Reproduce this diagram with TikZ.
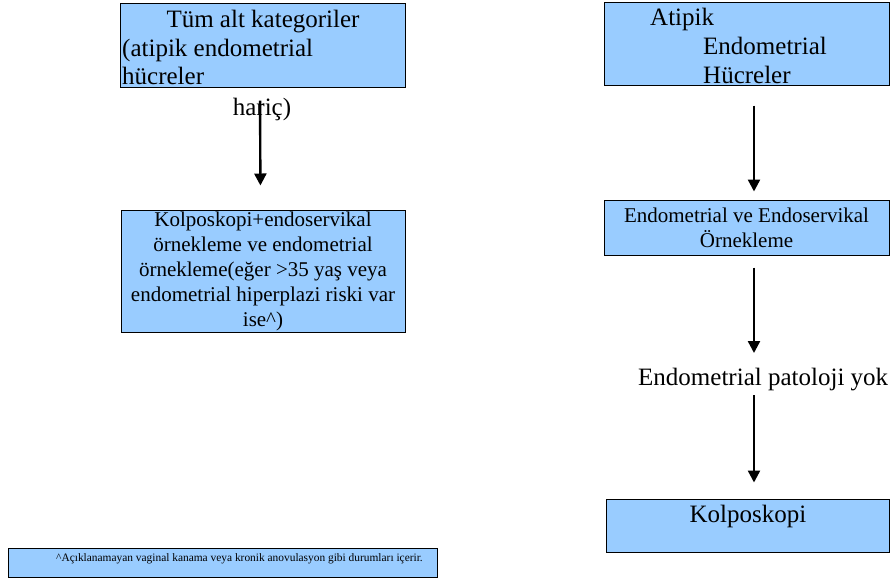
\documentclass[tikz,border=0pt]{standalone}
\usepackage{fontspec}
\setmainfont{Liberation Serif}
\usetikzlibrary{arrows.meta}
\usetikzlibrary{positioning}
\definecolor{lblue}{HTML}{99CCFF}
\tikzset{box/.style = {draw, fill=lblue, line width=1pt, inner sep=0}}
\tikzset{big/.style = {font=\fontsize{25}{28}\selectfont, inner sep=0}}
\tikzset{mid/.style = {font=\fontsize{21}{25}\selectfont, align=center, inner sep=0}}
\tikzset{arr/.style = {line width=2.4pt, -{Triangle[width=12pt, length=12pt]}}}

\begin{document}
\begin{tikzpicture}[x=1pt, y=-1pt]
    \useasboundingbox (0,0) rectangle (896,582);

    \node [box, minimum width=285, minimum height=84] (alt) at (262.5,45) {};
    \node [big, anchor=base] (tum) at (263,27) {Tüm alt kategoriler};
    \node [big, anchor=base west] (atip) at (122,56) {(atipik endometrial};
    \node [big, anchor=base west] (hucl) at (122,84) {hücreler};
    \node [big, anchor=base] (haric) at (262,115) {hariç)};

    \node [box, mid, minimum width=284, minimum height=122] (kolend) at (263,271)
      {Kolposkopi+endoservikal\\örnekleme ve endometrial\\örnekleme(eğer >35 yaş veya\\endometrial hiperplazi riski var\\ise\textasciicircum)};

    \node [box, minimum width=285, minimum height=83] (aeh) at (746.5,43.5) {};
    \node [big, anchor=base west] (atipik) at (650,25) {Atipik};
    \node [big, anchor=base west] (endo) at (703,54) {Endometrial};
    \node [big, anchor=base west] (hucr) at (703,83) {Hücreler};

    \node [box, mid, minimum width=285, minimum height=55] (orn) at (746.5,227.5)
      {Endometrial ve Endoservikal\\Örnekleme};
    \node [big, anchor=base west] (yok) at (638,385) {Endometrial patoloji yok};
    \node [box, minimum width=283, minimum height=53] (kolp) at (747.5,525.5) {};
    \node [big, anchor=base] (kolptxt) at (748,522) {Kolposkopi};

    \node [box, minimum width=429, minimum height=29] (dipnot) at (222.5,562.5) {};
    \node [font=\fontsize{11.4}{13}\selectfont, anchor=base west, inner sep=0] (dipnottxt) at (56,561)
      {\textasciicircum Açıklanamayan vaginal kanama veya kronik anovulasyon gibi durumları içerir.};

    \coordinate (yokust) at (754,353);
    \coordinate (yokalt) at (754,395);

    \draw [arr, shorten <=13pt, shorten >=24pt] ([xshift=-2.5pt]alt.south) -- ([xshift=-2.5pt]kolend.north);
    \draw [arr, shorten <=20pt, shorten >=8pt] ([xshift=7.5pt]aeh.south) -- ([xshift=7.5pt]orn.north);
    \draw [arr, shorten <=12pt] ([xshift=7.5pt]orn.south) -- (yokust);
    \draw [arr, shorten >=16pt] (yokalt) -- ([xshift=6.5pt]kolp.north);
\end{tikzpicture}
\end{document}
